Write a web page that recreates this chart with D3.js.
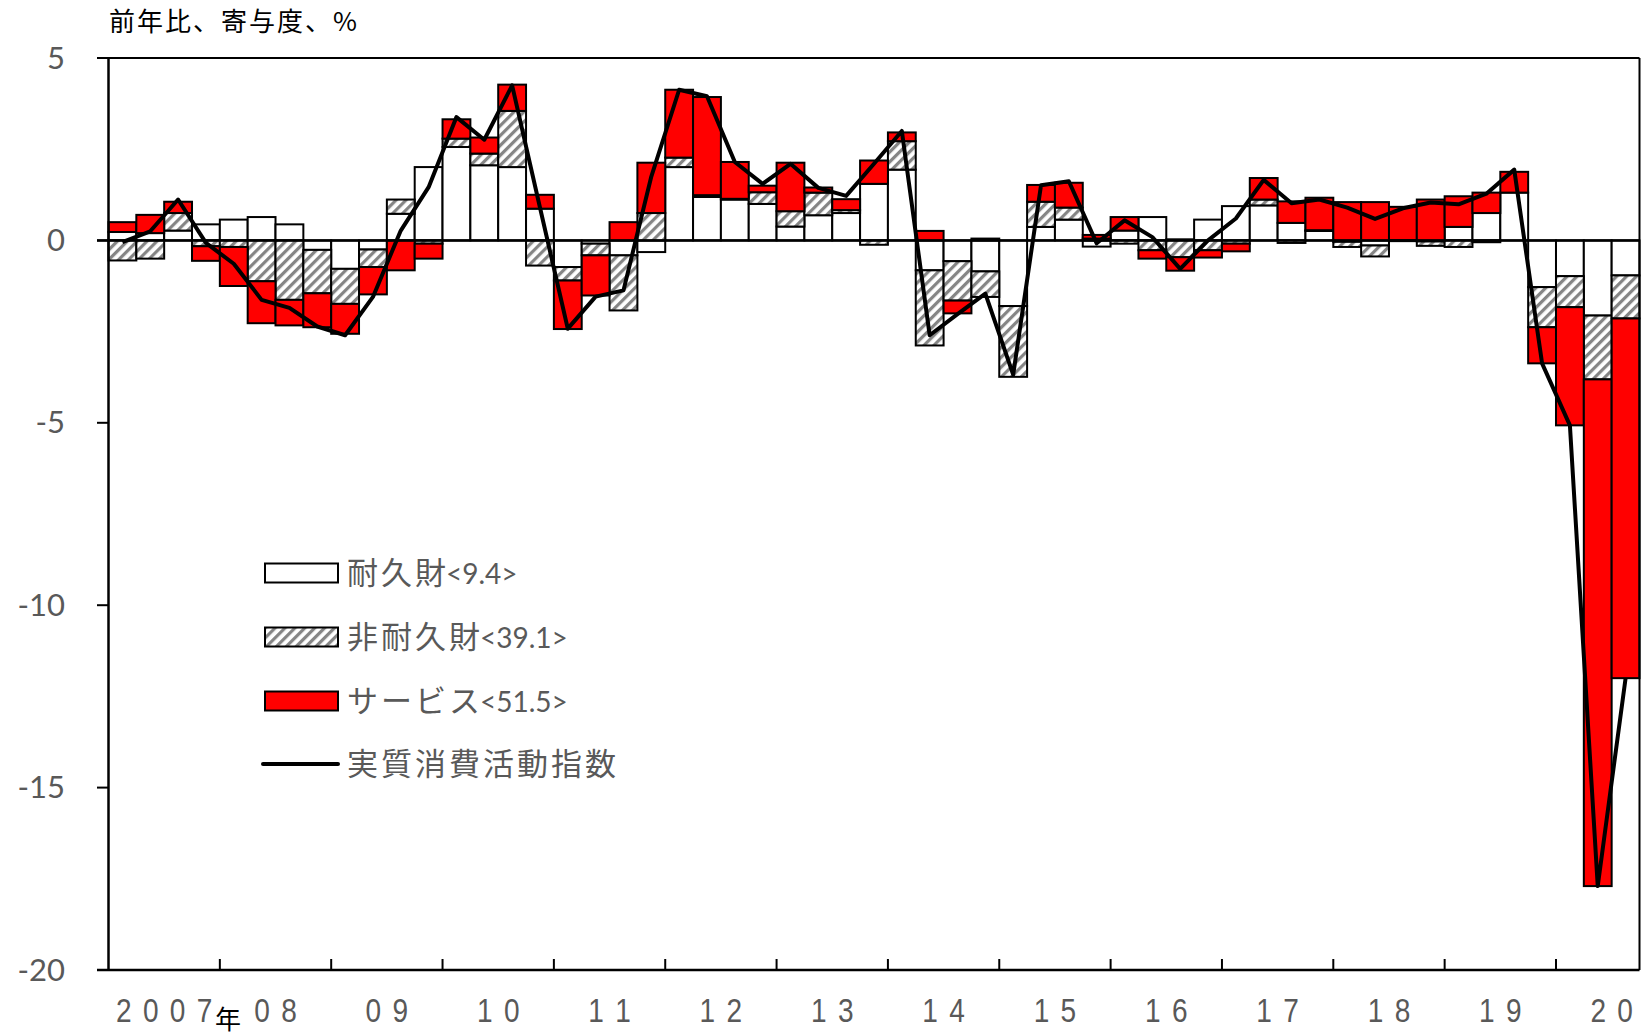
<!DOCTYPE html>
<html><head><meta charset="utf-8">
<script src="https://cdn.jsdelivr.net/npm/d3@7"></script>
<style>body{margin:0;background:#fff}svg{display:block}</style>
</head><body>
<svg id="c" width="1644" height="1036"></svg>
<script>
const quarters = ["2007Q1","2007Q2","2007Q3","2007Q4","2008Q1","2008Q2","2008Q3","2008Q4",
"2009Q1","2009Q2","2009Q3","2009Q4","2010Q1","2010Q2","2010Q3","2010Q4",
"2011Q1","2011Q2","2011Q3","2011Q4","2012Q1","2012Q2","2012Q3","2012Q4",
"2013Q1","2013Q2","2013Q3","2013Q4","2014Q1","2014Q2","2014Q3","2014Q4",
"2015Q1","2015Q2","2015Q3","2015Q4","2016Q1","2016Q2","2016Q3","2016Q4",
"2017Q1","2017Q2","2017Q3","2017Q4","2018Q1","2018Q2","2018Q3","2018Q4",
"2019Q1","2019Q2","2019Q3","2019Q4","2020Q1","2020Q2","2020Q3"];

// 耐久財 contribution
const durable = [0.23,0.20,0.27,0.44,0.57,0.64,0.44,-0.26,
-0.78,-0.25,0.73,2.01,2.56,2.06,2.01,0.87,
-0.73,-0.09,-0.41,-0.32,2.01,1.19,1.12,1.00,
0.38,0.69,0.75,1.55,1.94,-0.82,-0.57,-0.85,
-1.80,0.37,0.57,-0.17,0.27,0.64,0.03,0.57,
0.94,0.96,0.48,0.26,-0.04,-0.14,0.01,-0.03,
0.37,0.75,1.31,-1.28,-0.98,-2.06,-0.96];
// 非耐久財 contribution
const nondurable = [-0.55,-0.50,0.48,-0.16,-0.18,-1.12,-1.63,-1.19,
-0.96,-0.48,0.39,-0.09,0.23,0.32,1.54,-0.69,
-0.37,-0.32,-1.51,0.75,0.26,0.05,0.02,0.32,
0.42,0.62,0.08,-0.12,0.78,-2.06,-1.08,-0.70,
-1.94,0.69,0.33,0.05,-0.09,-0.27,-0.46,-0.27,
-0.09,0.16,-0.07,0.02,-0.14,-0.30,-0.02,-0.12,
-0.18,-0.05,0.00,-1.10,-0.85,-1.75,-1.18];
// サービス contribution
const services = [0.27,0.50,0.31,-0.40,-1.07,-1.15,-0.70,-0.93,
-0.82,-0.75,-0.82,-0.41,0.53,0.44,0.72,0.38,
-1.33,-1.10,0.50,1.38,1.86,2.69,1.01,0.18,
1.33,0.14,0.30,0.64,0.24,0.26,-0.35,0.05,
0.00,0.46,0.68,0.10,0.37,-0.23,-0.37,-0.20,
-0.21,0.59,0.59,0.89,1.05,1.05,0.91,1.12,
0.84,0.56,0.57,-0.99,-3.24,-13.89,-9.86];
// 実質消費活動指数 (前年比)
const indexYoY = [-0.05,0.25,1.12,-0.07,-0.64,-1.63,-1.85,-2.36,
-2.60,-1.55,0.27,1.46,3.38,2.76,4.25,0.90,
-2.42,-1.54,-1.37,1.75,4.13,3.95,2.15,1.55,
2.10,1.44,1.22,2.10,3.00,-2.60,-2.02,-1.46,
-3.68,1.51,1.62,-0.08,0.55,0.09,-0.78,0.00,
0.60,1.66,1.02,1.12,0.90,0.59,0.88,1.04,
0.99,1.28,1.94,-3.37,-5.07,-17.70,-12.00];

const yearLabels = ["2007","08","09","10","11","12","13","14","15","16","17","18","19","20"];
const yTicks = [5,0,-5,-10,-15,-20];
const seriesNames = ["耐久財","非耐久財","サービス","実質消費活動指数"];
const seriesWeights = ["<9.4>","<39.1>","<51.5>",""];
const titleText = "前年比、寄与度、%";

const m = {left:108.5, right:1639.5, top:58, bottom:970};
const svg = d3.select("#c");
const x = d3.scaleBand().domain(quarters).range([m.left, m.right]).padding(0);
const y = d3.scaleLinear().domain([-20,5]).range([m.bottom, m.top]);
const bw = x.bandwidth();

// hatch pattern
const defs = svg.append("defs");
const pat = defs.append("pattern").attr("id","hatch").attr("patternUnits","userSpaceOnUse")
  .attr("width",7).attr("height",7).attr("patternTransform","rotate(45)");
pat.append("rect").attr("width",7).attr("height",7).attr("fill","#fff");
pat.append("rect").attr("x",0).attr("width",3.2).attr("height",7).attr("fill","#858585");

const fills = {dur:"#ffffff", nondur:"url(#hatch)", serv:"#ff0000"};
const rows = quarters.map((q,i)=>({q, dur:durable[i], nondur:nondurable[i], serv:services[i]}));
const stacked = d3.stack().keys(["dur","nondur","serv"]).offset(d3.stackOffsetDiverging)(rows);

const gBars = svg.append("g");
stacked.forEach(s=>{
  gBars.append("g").selectAll("rect")
    .data(s.filter(d=>Math.abs(d[1]-d[0])>1e-6))
    .join("rect")
    .attr("x", d=>x(d.data.q))
    .attr("width", bw)
    .attr("y", d=>y(Math.max(d[0],d[1])))
    .attr("height", d=>Math.abs(y(d[0])-y(d[1])))
    .attr("fill", fills[s.key])
    .attr("stroke","#000").attr("stroke-width",2);
});

// axes and frame
const ax = svg.append("g").attr("stroke","#000");
ax.append("line").attr("x1",m.left).attr("x2",m.left).attr("y1",m.top).attr("y2",m.bottom).attr("stroke-width",2.5);
ax.append("line").attr("x1",m.right).attr("x2",m.right).attr("y1",m.top).attr("y2",m.bottom).attr("stroke-width",2);
ax.append("line").attr("x1",97).attr("x2",m.right).attr("y1",y(5)).attr("y2",y(5)).attr("stroke-width",2);
ax.append("line").attr("x1",97).attr("x2",m.right).attr("y1",y(-20)).attr("y2",y(-20)).attr("stroke-width",2.5);
ax.append("line").attr("x1",97).attr("x2",m.right).attr("y1",y(0)).attr("y2",y(0)).attr("stroke-width",2.5);
yTicks.forEach(v=>{
  ax.append("line").attr("x1",97).attr("x2",m.left).attr("y1",y(v)).attr("y2",y(v)).attr("stroke-width",2);
});
for(let k=1;k<yearLabels.length;k++){
  const xx = x(quarters[k*4]);
  ax.append("line").attr("x1",xx).attr("x2",xx).attr("y1",m.bottom).attr("y2",m.bottom-11).attr("stroke-width",2);
}

// y tick labels
svg.append("g").selectAll("text").data(yTicks).join("text")
  .attr("x",65).attr("y",d=>y(d)+10.5)
  .attr("text-anchor","end")
  .attr("font-family","Lato, 'Open Sans', sans-serif").attr("font-size",31)
  .attr("fill","#595959").text(d=>d);

// x labels
const gx = svg.append("g");
const sx = 0.85, adv = 0.556*33, gap = 13.4;
yearLabels.forEach((lab,k)=>{
  const cx = x(quarters[0]) + (k*4+2)*bw;
  const n = lab.length;
  gx.append("text")
    .attr("transform",`translate(${cx},1022) scale(${sx},1)`)
    .attr("text-anchor","middle")
    .attr("font-family","'Liberation Sans', Arial, sans-serif").attr("font-size",33)
    .attr("textLength", n*adv + (n-1)*gap).attr("lengthAdjust","spacing")
    .attr("fill","#595959").text(lab);
});
gx.append("text").attr("x",215).attr("y",1029)
  .attr("font-family","'Noto Sans CJK JP', sans-serif").attr("font-size",26)
  .attr("fill","#000").text("年");

// index line
const line = d3.line().x((d,i)=>x(quarters[i])+bw/2).y(d=>y(d));
svg.append("path").datum(indexYoY).attr("d",line)
  .attr("fill","none").attr("stroke","#000").attr("stroke-width",4)
  .attr("stroke-linejoin","round");

// title
svg.append("text").attr("x",109).attr("y",31)
  .attr("font-family","'Noto Sans CJK JP', sans-serif").attr("font-size",26)
  .attr("letter-spacing",2)
  .attr("fill","#000").text(titleText);

// legend
const lg = svg.append("g");
const legFills = ["#ffffff","url(#hatch)","#ff0000"];
const rowY = [573,637,701,764];
seriesNames.forEach((nm,i)=>{
  const cy = rowY[i];
  if(i<3){
    lg.append("rect").attr("x",265).attr("y",cy-9.5).attr("width",73).attr("height",19)
      .attr("fill",legFills[i]).attr("stroke","#000").attr("stroke-width",2);
  } else {
    lg.append("line").attr("x1",263).attr("x2",338).attr("y1",cy).attr("y2",cy)
      .attr("stroke","#000").attr("stroke-width",4).attr("stroke-linecap","round");
  }
  const t = lg.append("text").attr("x",347).attr("y",cy+11).attr("fill","#595959");
  t.append("tspan").attr("font-family","'Noto Sans CJK JP', sans-serif").attr("font-size",31)
    .attr("letter-spacing",3).text(nm);
  if(seriesWeights[i]) t.append("tspan").attr("dx",-3).attr("font-family","Lato, 'Open Sans', sans-serif").attr("font-size",28).attr("letter-spacing",0).text(seriesWeights[i]);
});
</script>
</body></html>
